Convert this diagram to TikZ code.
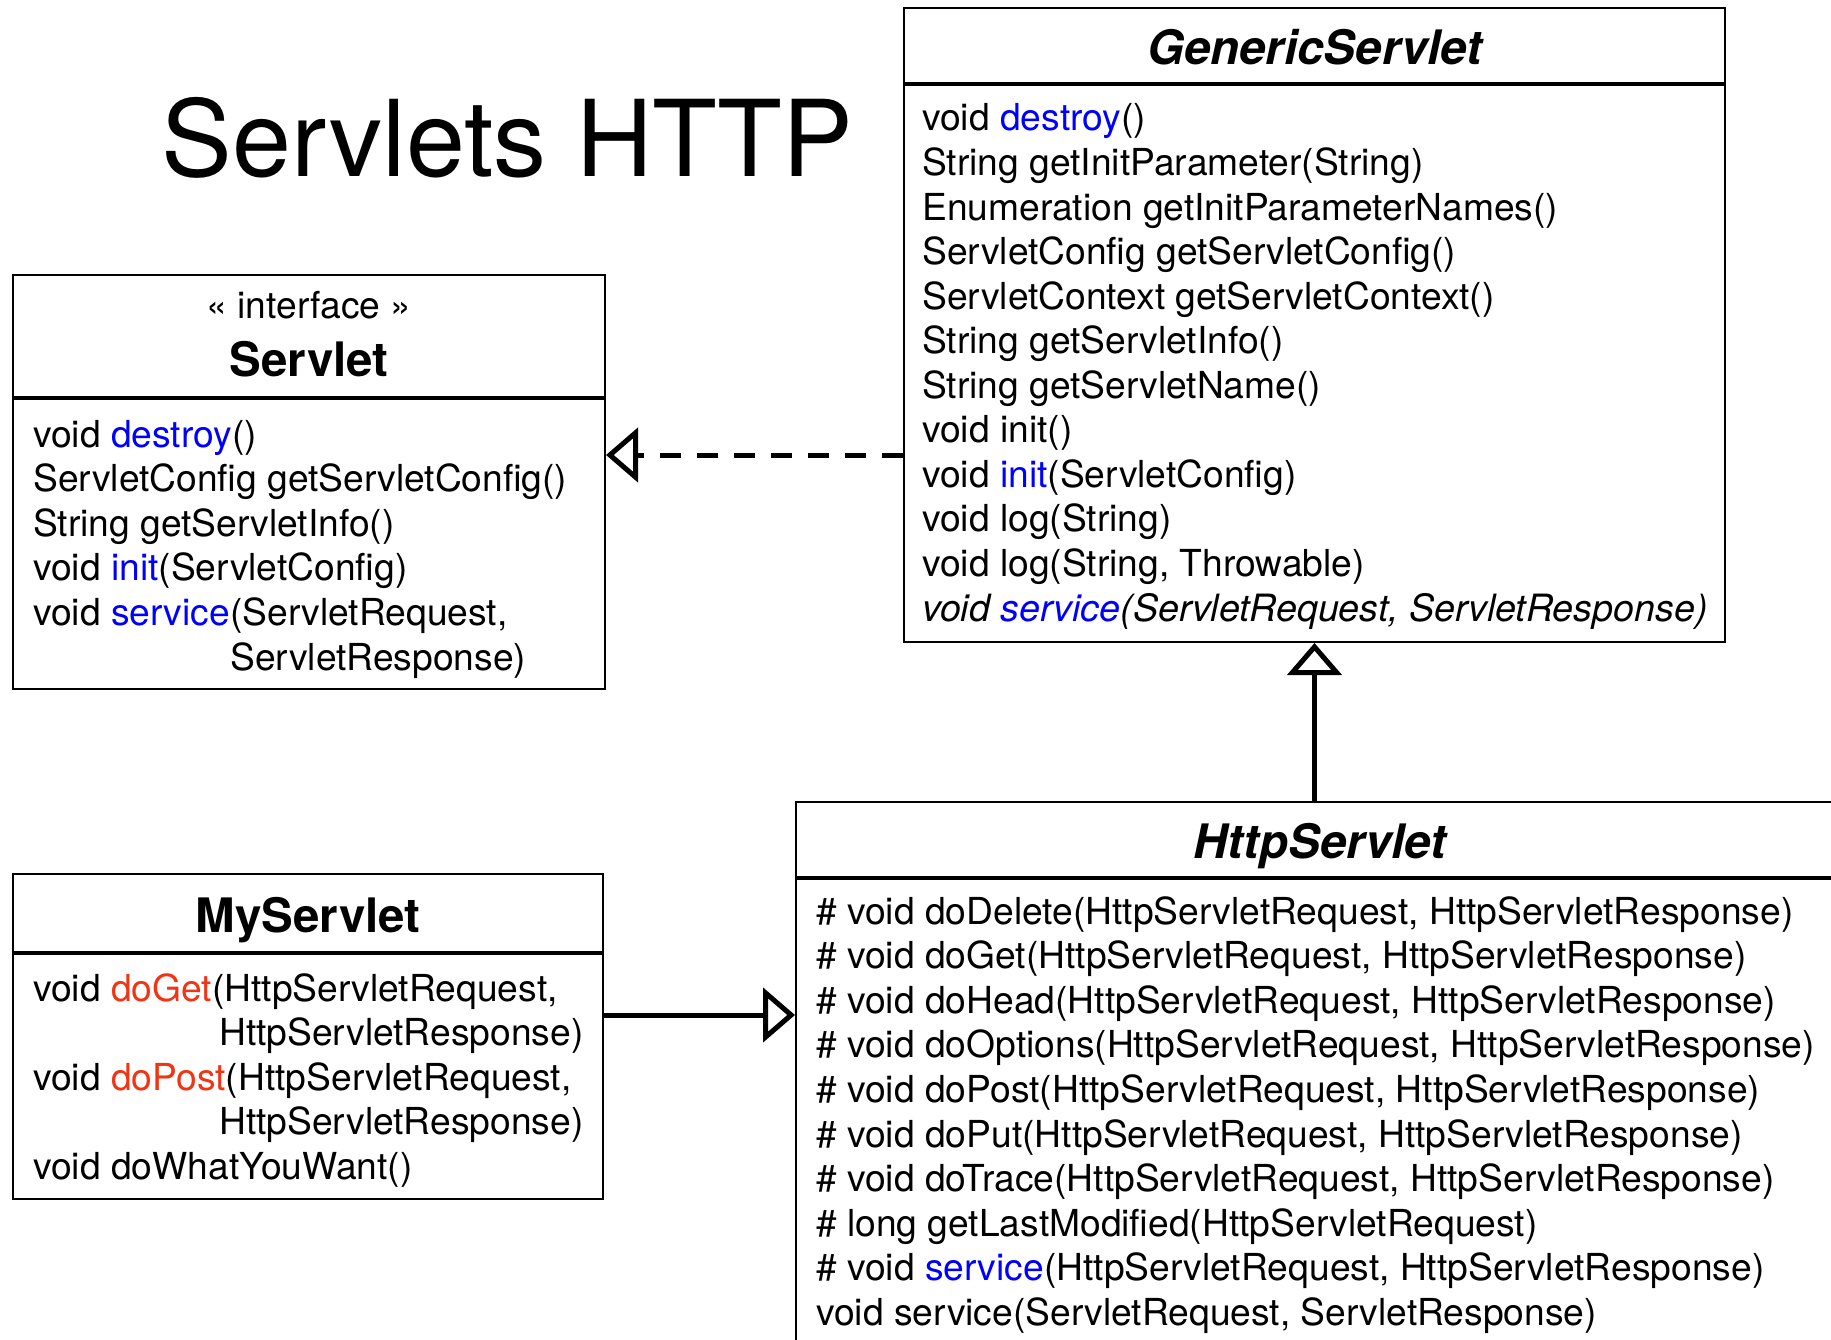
\documentclass[tikz,border=0pt]{standalone}
\usepackage{fontspec}
\setmainfont{TeX Gyre Heros}
\usetikzlibrary{arrows.meta}
\definecolor{mblue}{RGB}{0,0,255}
\definecolor{mred}{RGB}{240,52,20}

\tikzset{
  classbox/.style={draw, line width=2pt, inner sep=0pt, anchor=north west},
  divider/.style={line width=3.5pt},
  member/.style={anchor=base west, inner sep=0pt, font=\fontsize{37.2}{44.6}\selectfont},
  stereo/.style={anchor=base, inner sep=0pt, font=\fontsize{37.2}{44.6}\selectfont},
  classname/.style={anchor=base, inner sep=0pt, font=\fontsize{47.5}{55}\selectfont\bfseries},
  abstractname/.style={anchor=base, inner sep=0pt, font=\fontsize{47.5}{55}\selectfont\bfseries\itshape},
  realize/.style={line width=5pt, dash pattern=on 21pt off 16pt,
    -{Triangle[open, length=32pt, width=54pt]}},
  inherit/.style={line width=5pt, -{Triangle[open, length=32pt, width=54pt]}},
}

\begin{document}
\begin{tikzpicture}[x=1pt, y=-1pt]
\useasboundingbox (0,0) rectangle (1831,1340);
\clip (0,0) rectangle (1831,1340);

% title
\node[anchor=base west, inner sep=0pt, font=\fontsize{106}{120}\selectfont]
  (title) at (161.5,177) {Servlets HTTP};

% ---- interface Servlet ----
\node[classbox, minimum width=592pt, minimum height=414pt] (servlet) at (12,274) {};
\draw[divider] (servlet.west |- 0,398) -- (servlet.east |- 0,398);
\node[stereo] (servletst) at (servlet.north |- 0,319) {« interface »};
\node[classname] (servletname) at (servlet.north |- 0,376) {Servlet};
\node[member] (s1) at (33,447)   {void \textcolor{mblue}{destroy}()};
\node[member] (s2) at (33,491.6) {ServletConfig getServletConfig()};
\node[member] (s3) at (33,536.2) {String getServletInfo()};
\node[member] (s4) at (33,580.8) {void \textcolor{mblue}{init}(ServletConfig)};
\node[member] (s5) at (33,625.4) {void \textcolor{mblue}{service}(ServletRequest,};
\node[member] (s6) at (230,670)  {ServletResponse)};

% ---- GenericServlet ----
\node[classbox, minimum width=821pt, minimum height=634pt] (generic) at (903,7) {};
\draw[divider] (generic.west |- 0,84) -- (generic.east |- 0,84);
\node[abstractname] (genericname) at (generic.north |- 0,65) {GenericServlet};
\foreach \t [count=\i] in {
  {void \textcolor{mblue}{destroy}()},
  {String getInitParameter(String)},
  {Enumeration getInitParameterNames()},
  {ServletConfig getServletConfig()},
  {ServletContext getServletContext()},
  {String getServletInfo()},
  {String getServletName()},
  {void init()},
  {void \textcolor{mblue}{init}(ServletConfig)},
  {void log(String)},
  {void log(String, Throwable)},
  {\fontsize{37.6}{44.6}\selectfont\itshape void \textcolor{mblue}{service}(ServletRequest, ServletResponse)}}
  \node[member] (g\i) at (922,{131+44.55*(\i-1)}) {\t};

% ---- HttpServlet ----
\node[classbox, minimum width=1048pt, minimum height=600pt] (http) at (795,801) {};
\draw[divider] (http.west |- 0,878) -- (http.east |- 0,878);
\node[abstractname] (httpname) at (http.north |- 0,858) {HttpServlet};
\foreach \t [count=\i] in {
  {\# void doDelete(HttpServletRequest, HttpServletResponse)},
  {\# void doGet(HttpServletRequest, HttpServletResponse)},
  {\# void doHead(HttpServletRequest, HttpServletResponse)},
  {\# void doOptions(HttpServletRequest, HttpServletResponse)},
  {\# void doPost(HttpServletRequest, HttpServletResponse)},
  {\# void doPut(HttpServletRequest, HttpServletResponse)},
  {\# void doTrace(HttpServletRequest, HttpServletResponse)},
  {\# long getLastModified(HttpServletRequest)},
  {\# void \textcolor{mblue}{service}(HttpServletRequest, HttpServletResponse)},
  {void service(ServletRequest, ServletResponse)}}
  \node[member] (h\i) at (816,{924+44.6*(\i-1)}) {\t};

% ---- MyServlet ----
\node[classbox, minimum width=590pt, minimum height=325pt] (myservlet) at (12,873) {};
\draw[divider] (myservlet.west |- 0,953) -- (myservlet.east |- 0,953);
\node[classname] (myname) at (myservlet.north |- 0,932) {MyServlet};
\node[member] (m1) at (33,1001)    {void \textcolor{mred}{doGet}(HttpServletRequest,};
\node[member] (m2) at (219,1045.6) {HttpServletResponse)};
\node[member] (m3) at (33,1090.2)  {void \textcolor{mred}{doPost}(HttpServletRequest,};
\node[member] (m4) at (219,1134.8) {HttpServletResponse)};
\node[member] (m5) at (33,1179.4)  {void doWhatYouWant()};

% ---- relations ----
\draw[realize] (generic.west |- 0,455) -- (servlet.east |- 0,455);
\draw[inherit] (http.north -| generic.south) -- (generic.south);
\draw[inherit] (myservlet.east |- 0,1015) -- (http.west |- 0,1015);
\end{tikzpicture}
\end{document}
